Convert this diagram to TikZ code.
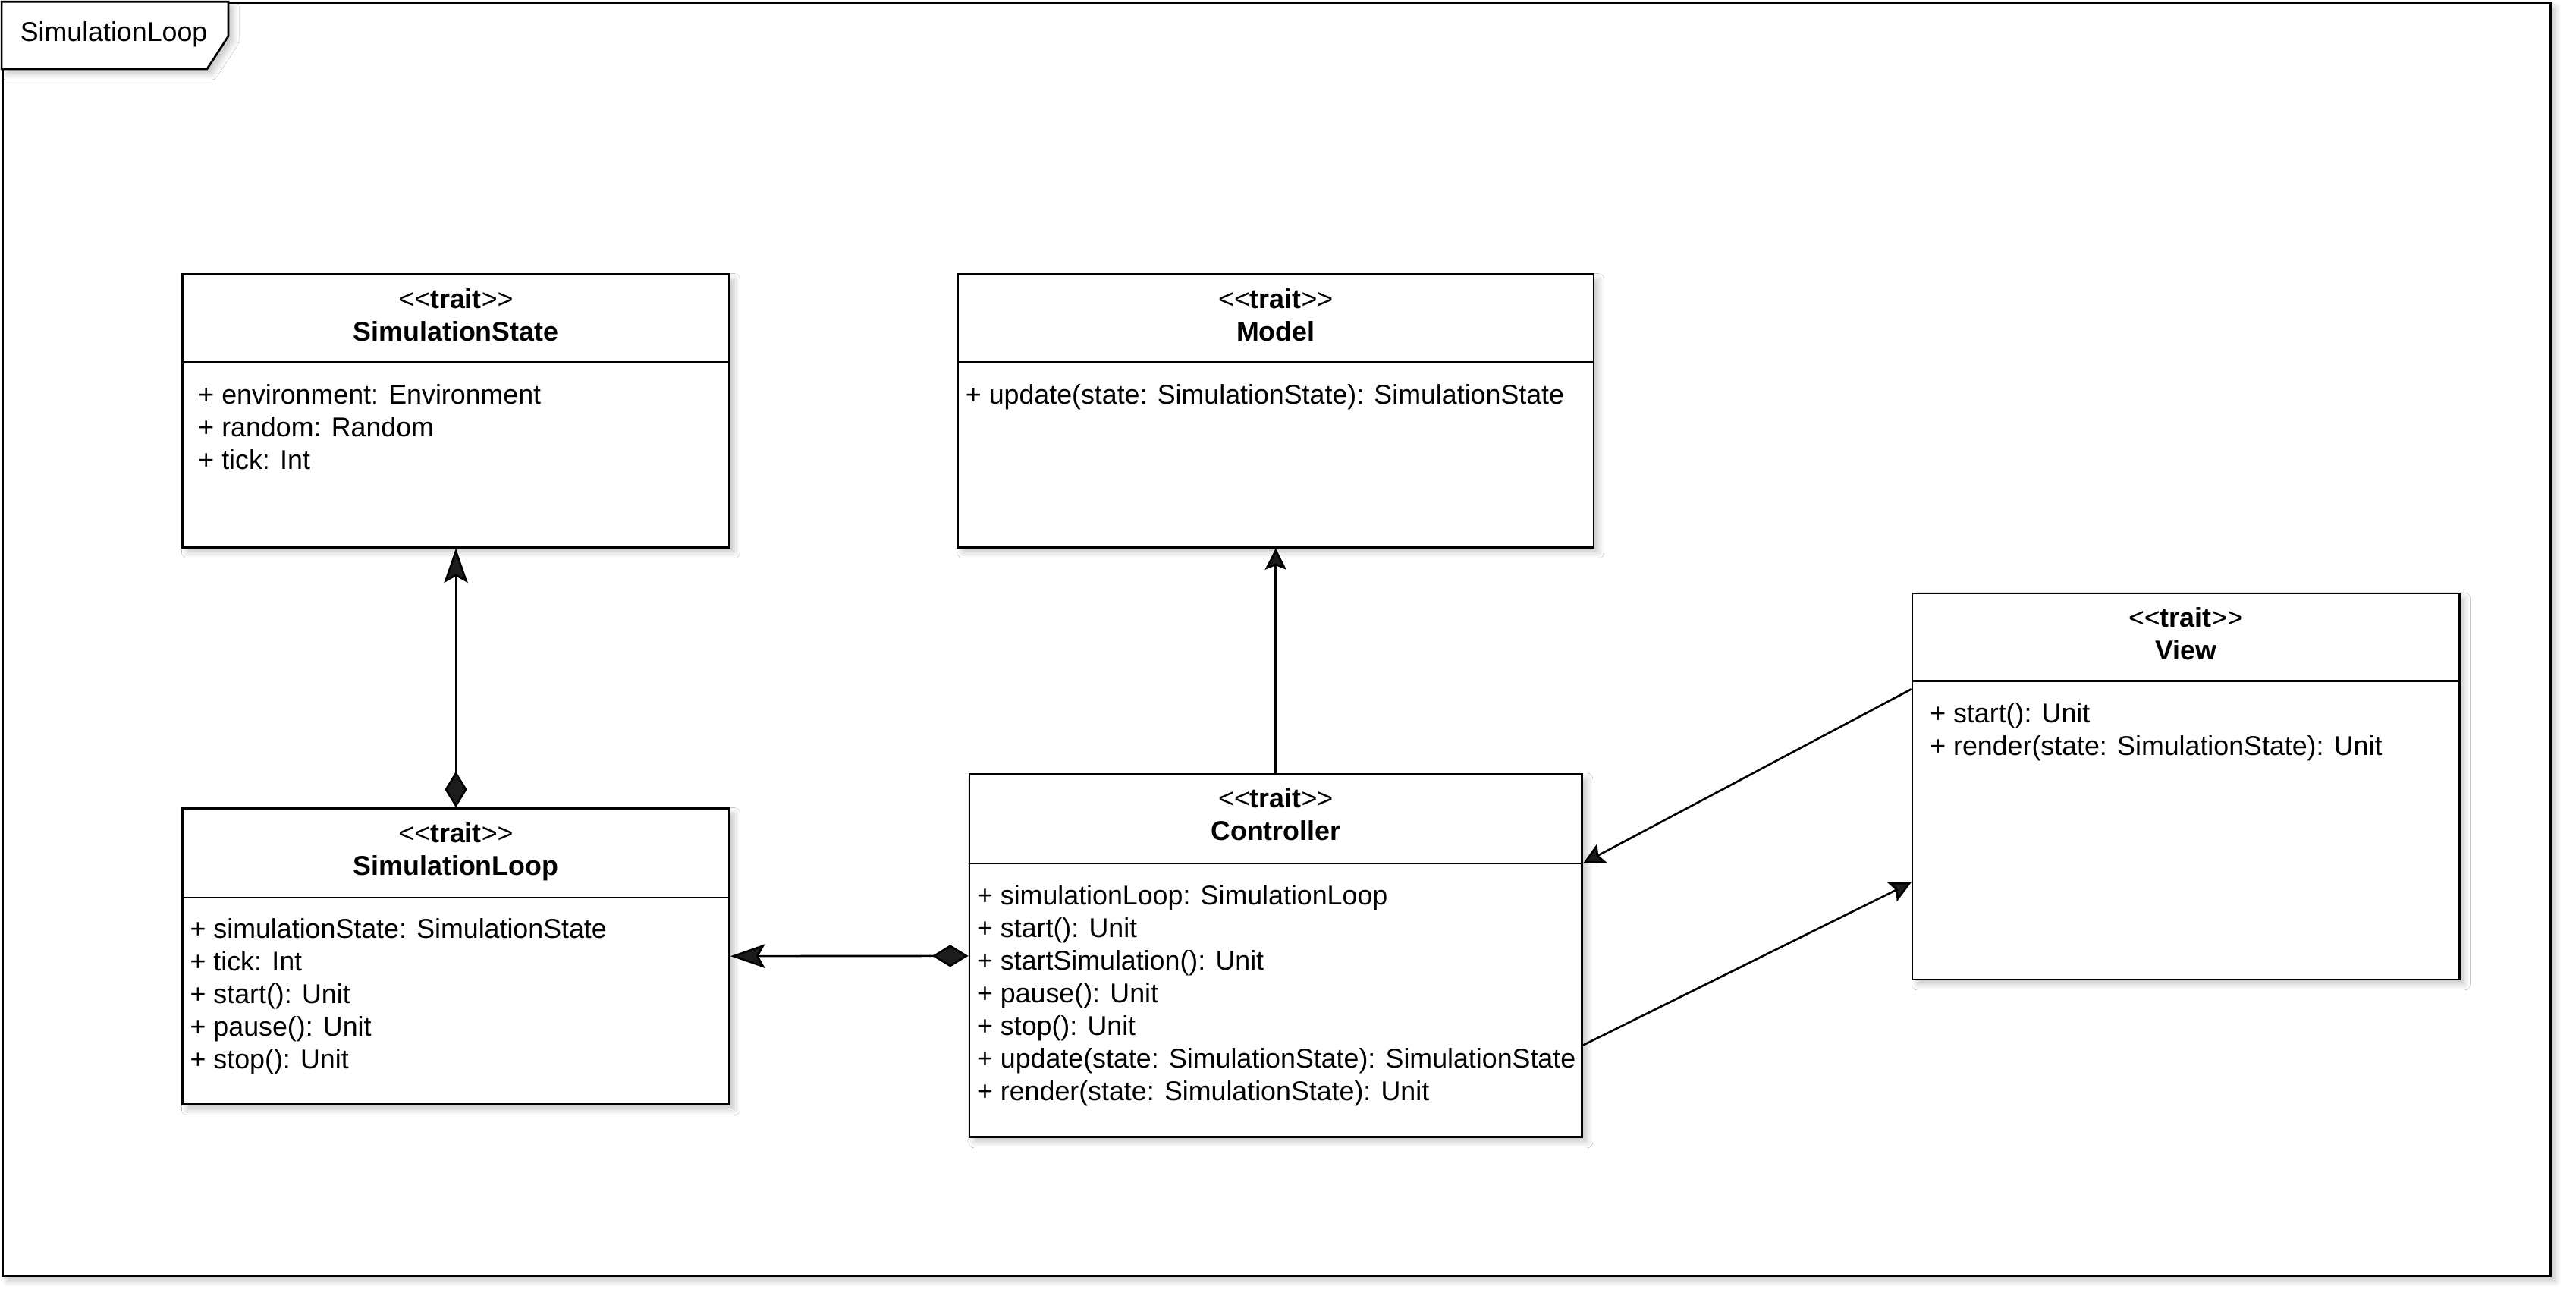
\documentclass[tikz,border=0pt]{standalone}
\usepackage{fontspec}
\setmainfont{Liberation Sans}
\usetikzlibrary{positioning,arrows.meta,shadows.blur}
\newcommand{\stereo}{<\kern0pt<\textbf{trait}>\kern0pt>}

\begin{document}
\begin{tikzpicture}
[font=\fontsize{9.4}{11.3}\selectfont,
 shade/.style={blur shadow={shadow xshift=0.06cm, shadow yshift=-0.06cm,
     shadow blur radius=0.07cm, shadow blur steps=6, shadow opacity=22}},
 box/.style={draw, line width=0.7pt, fill=white, inner sep=0pt, shade},
 head/.style={inner sep=0pt, align=center},
 members/.style={inner sep=0pt, align=left},
 divider/.style={line width=0.55pt},
 comp/.style={line width=0.7pt,
     {Diamond[length=4.4mm,width=2.7mm]}-{Stealth[length=4.2mm,width=2.9mm,inset=0.8mm]}},
 assoc/.style={line width=0.7pt, -{Stealth[length=2.6mm,width=2.6mm,inset=0.5mm]}}]
\useasboundingbox (0,0) rectangle (31.36,-15.84);

% frame
\node[box, anchor=north west, minimum width=31.02cm, minimum height=15.50cm] (frame) at (0.02,-0.02) {};
\draw[line width=0.7pt, fill=white, shade] (frame.north west) -- ++(2.76,0) -- ++(0,-0.42)
  -- ++(-0.26,-0.40) -- ([yshift=-0.82cm]frame.north west) -- cycle;
\node[anchor=west, inner sep=0pt] (frametitle) at (0.24,-0.42) {SimulationLoop};

% classes
\node[box, minimum width=6.66cm, minimum height=3.32cm] (state) at (5.55,-5.00) {};
\node[head, below=0.18cm of state.north] (stateh) {\stereo\\\textbf{SimulationState}};
\coordinate (stated) at ([yshift=-1.08cm]state.north west);
\draw[divider] (stated) -- (stated -| state.east);
\node[members, below right=0.26cm and 0.2cm of stated] (statem)
  {+ environment: Environment\\+ random: Random\\+ tick: Int};

\node[box, minimum width=7.74cm, minimum height=3.32cm] (model) at (15.53,-5.00) {};
\node[head, below=0.18cm of model.north] (modelh) {\stereo\\\textbf{Model}};
\coordinate (modeld) at ([yshift=-1.08cm]model.north west);
\draw[divider] (modeld) -- (modeld -| model.east);
\node[members, below right=0.26cm and 0.1cm of modeld] (modelm)
  {+ update(state: SimulationState): SimulationState};

\node[box, minimum width=6.66cm, minimum height=4.70cm] (view) at (26.61,-9.57) {};
\node[head, below=0.18cm of view.north] (viewh) {\stereo\\\textbf{View}};
\coordinate (viewd) at ([yshift=-1.08cm]view.north west);
\draw[divider] (viewd) -- (viewd -| view.east);
\node[members, below right=0.26cm and 0.22cm of viewd] (viewm)
  {+ start(): Unit\\+ render(state: SimulationState): Unit};

\node[box, minimum width=6.66cm, minimum height=3.60cm] (loop) at (5.55,-11.64) {};
\node[head, below=0.18cm of loop.north] (looph) {\stereo\\\textbf{SimulationLoop}};
\coordinate (loopd) at ([yshift=-1.1cm]loop.north west);
\draw[divider] (loopd) -- (loopd -| loop.east);
\node[members, below right=0.24cm and 0.1cm of loopd] (loopm)
  {+ simulationState: SimulationState\\+ tick: Int\\+ start(): Unit\\+ pause(): Unit\\+ stop(): Unit};

\node[box, minimum width=7.46cm, minimum height=4.42cm] (ctrl) at (15.53,-11.63) {};
\node[head, below=0.18cm of ctrl.north] (ctrlh) {\stereo\\\textbf{Controller}};
\coordinate (ctrld) at ([yshift=-1.1cm]ctrl.north west);
\draw[divider] (ctrld) -- (ctrld -| ctrl.east);
\node[members, below right=0.26cm and 0.1cm of ctrld] (ctrlm)
  {+ simulationLoop: SimulationLoop\\+ start(): Unit\\+ startSimulation(): Unit\\+ pause(): Unit\\+ stop(): Unit\\+ update(state: SimulationState): SimulationState\\+ render(state: SimulationState): Unit};

% connectors
\path (loop) edge[comp] (state);
\path (ctrl) edge[comp] (loop);
\path (ctrl) edge[assoc] (model);
\path ([yshift=-0.1cm]viewd) edge[assoc] (ctrld -| ctrl.east);
\path ([yshift=-1.09cm]ctrl.east) edge[assoc] ([yshift=-1.17cm]view.west);
\end{tikzpicture}
\end{document}
